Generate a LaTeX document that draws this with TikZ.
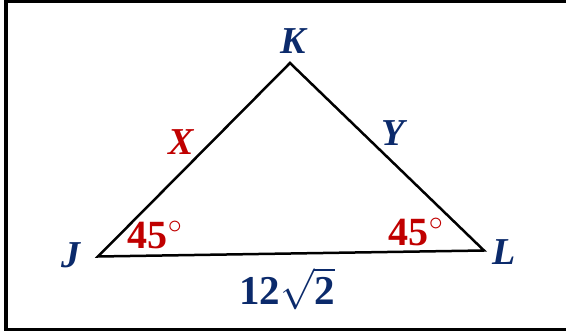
\RequirePackage{fix-cm}
\documentclass[tikz,border=0pt]{standalone}
\usepackage{amsmath}
\usepackage{fontspec}
\setmainfont{Liberation Serif}
\usepackage{tikz}
\usetikzlibrary{positioning}
\definecolor{Navy}{HTML}{0B2A6B}
\definecolor{AngleRed}{HTML}{C00000}
\tikzset{
  frameLine/.style={draw=black,line width=3.4pt},
  sideLine/.style={draw=black,line width=2.5pt,line join=miter},
  vertexLabel/.style={text=Navy,font=\bfseries\itshape\fontsize{38}{38}\selectfont,inner sep=0pt},
  sideLabel/.style={vertexLabel,text=AngleRed},
  angleLabel/.style={text=AngleRed,font=\bfseries\fontsize{40}{40}\selectfont,inner sep=0pt},
  lengthLabel/.style={text=Navy,font=\bfseries\fontsize{41}{41}\selectfont,inner sep=0pt}
}

\begin{document}
\begin{tikzpicture}[x=1pt,y=-1pt]
  \useasboundingbox (0,0) rectangle (566,331);
  \clip (0,0) rectangle (566,331);
  \draw[frameLine] (6,1.5) rectangle (580,329.5);
  \coordinate (J) at (98,256.5);
  \coordinate (K) at (290,63);
  \coordinate (L) at (484,250.5);
  \draw[sideLine] (J)--(K)--(L)--cycle;
  \node[vertexLabel] (jl) at (71,255) {J};
  \node[vertexLabel] (kl) at (293,41) {K};
  \node[vertexLabel] (ll) at (504,252) {L};
  \node[sideLabel] (xl) at (181,142) {X};
  \node[vertexLabel] (yl) at (393,133) {Y};
  \node[angleLabel] (aj) at (155,235) {45$^{\circ}$};
  \node[angleLabel] (al) at (416,232) {45$^{\circ}$};
  \node[lengthLabel] (base) at (287,289) {12$\sqrt{\text{2}}$};
\end{tikzpicture}
\end{document}
